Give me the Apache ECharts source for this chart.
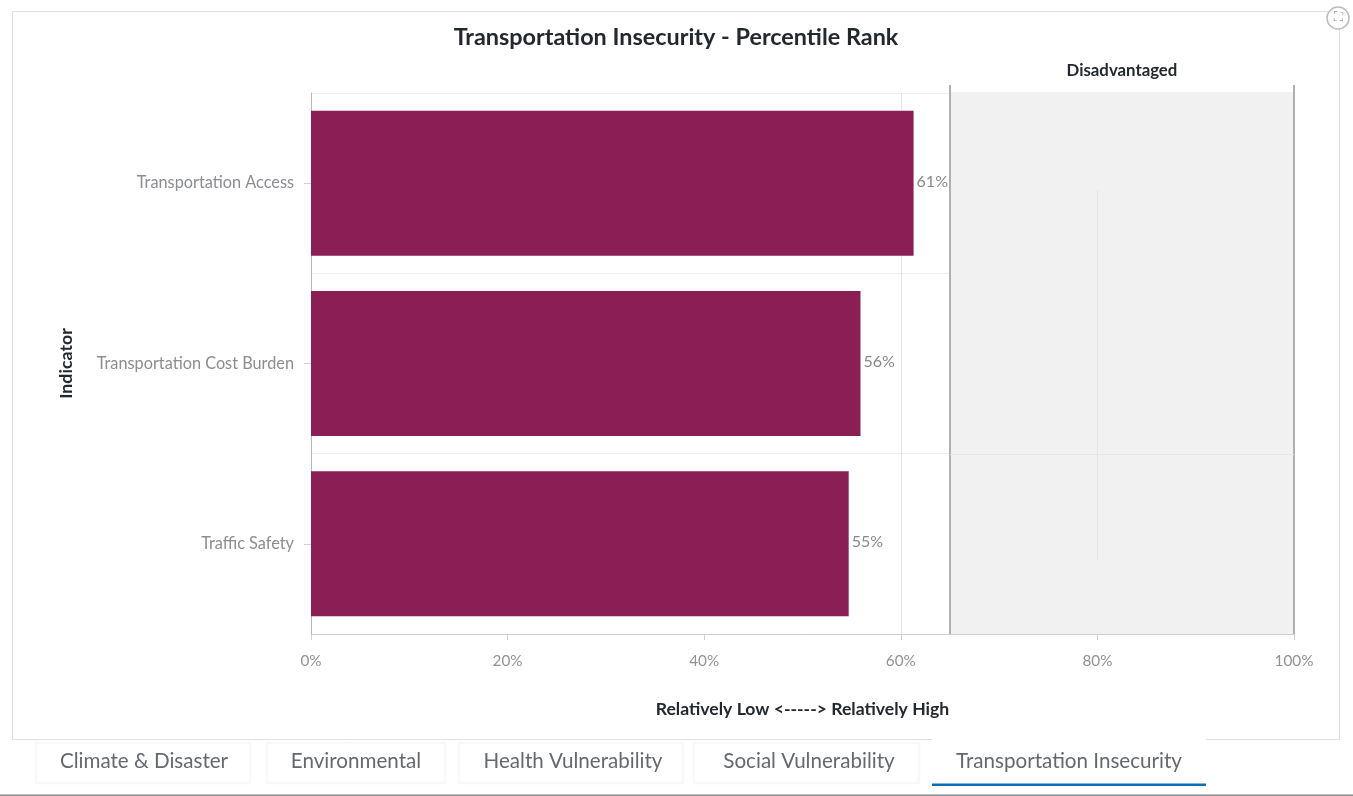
<!DOCTYPE html>
<html><head><meta charset="utf-8">
<style>html,body{margin:0;padding:0;background:#fff}#c{width:1353px;height:796px}</style>
<script src="https://cdn.jsdelivr.net/npm/echarts@6/dist/echarts.min.js"></script>
</head><body><div id="c"></div>
<script>
const categories = ['Transportation Access', 'Transportation Cost Burden', 'Traffic Safety'];
const values = [61.3, 55.9, 54.7];
const valueLabels = ['61%', '56%', '55%'];
const thresholdLow = 65, thresholdHigh = 100;
const tabs = ['Climate & Disaster', 'Environmental', 'Health Vulnerability', 'Social Vulnerability', 'Transportation Insecurity'];
const tabBoxes = [[36, 214], [267, 178], [459, 224], [694, 225], [932, 274]];
const tabCentres = [144, 356, 573, 809, 1069];
const F = 'Lato, "Open Sans", sans-serif';
const chart = echarts.init(document.getElementById('c'), null, {renderer: 'canvas'});
const tabGraphics = [];
tabs.forEach((t, i) => {
  const [x, w] = tabBoxes[i];
  const active = i === 4;
  tabGraphics.push({type: 'rect', silent: true, z: 1, shape: {x, y: active ? 738 : 743, width: w, height: active ? 47 : 40},
    style: {fill: '#fff', stroke: active ? 'transparent' : '#f7f7f7', lineWidth: 1.5, shadowBlur: active ? 0 : 3, shadowColor: 'rgba(0,0,0,0.03)'}});
  tabGraphics.push({type: 'text', silent: true, z: 3, style: {text: t, x: tabCentres[i], y: 761, align: 'center', verticalAlign: 'middle', fill: '#64696d', font: '20.6px ' + F}});
  if (active) tabGraphics.push({type: 'rect', silent: true, z: 3, shape: {x, y: 783.5, width: w, height: 2.5}, style: {fill: '#0f6cb6'}});
});
chart.setOption({
  animation: false,
  backgroundColor: '#fff',
  title: {text: 'Transportation Insecurity - Percentile Rank', left: 671, top: 21, textAlign: 'center',
    textStyle: {fontFamily: F, fontWeight: 'bold', fontSize: 23.4, color: '#23282e'}},
  grid: {left: 311, right: 59, top: 93, bottom: 162},
  xAxis: {type: 'value', min: 0, max: 100, interval: 20,
    name: 'Relatively Low <-----> Relatively High', nameLocation: 'middle', nameGap: 66,
    nameTextStyle: {fontFamily: F, fontWeight: 'bold', fontSize: 17.6, color: '#23282e'},
    axisLine: {show: true, lineStyle: {color: '#cfcfcf', width: 1}},
    axisTick: {show: true, length: 6, lineStyle: {color: '#cfcfcf'}},
    axisLabel: {formatter: '{value}%', margin: 20, fontFamily: F, fontSize: 15.3, color: '#8f9295'},
    splitLine: {show: false}},
  yAxis: {type: 'category', data: categories, inverse: true,
    name: 'Indicator', nameLocation: 'middle', nameGap: 236, nameRotate: 90,
    nameTextStyle: {fontFamily: F, fontWeight: 'bold', fontSize: 17.8, color: '#23282e'},
    axisLine: {show: true, lineStyle: {color: '#b5b5b5', width: 1}},
    axisTick: {show: true, alignWithLabel: true, length: 7, lineStyle: {color: '#cfcfcf'}},
    axisLabel: {margin: 17, padding: [0, 0, 5, 0], fontFamily: F, fontSize: 16.3, color: '#8a8d91'},
    splitLine: {show: true, lineStyle: {color: '#efefef', width: 1}}},
  series: [{
    type: 'bar', data: values, barWidth: '80.4%', z: 5,
    itemStyle: {color: '#8a1f55'},
    label: {show: true, position: 'right', distance: 3, offset: [0, -1.5], fontFamily: F, fontSize: 16, color: '#85888c',
      formatter: p => valueLabels[p.dataIndex]},
    markArea: {silent: true, z: 1,
      itemStyle: {color: '#f1f1f1', opacity: 1},
      label: {show: true, position: 'top', distance: 13, formatter: 'Disadvantaged', fontFamily: F, fontWeight: 'bold', fontSize: 16.8, color: '#23282e'},
      data: [[{xAxis: thresholdLow, y: 92}, {xAxis: thresholdHigh, y: 634}]]},
    markLine: {silent: true, symbol: 'none', z: 2, label: {show: false},
      lineStyle: {color: '#b0b0b0', width: 2, type: 'solid'},
      data: [
        [{xAxis: thresholdLow, y: 85}, {xAxis: thresholdLow, y: 634}],
        [{xAxis: thresholdHigh, y: 85}, {xAxis: thresholdHigh, y: 634}],
        [{xAxis: 60, y: 93, lineStyle: {color: '#e4e4e4', width: 1}}, {xAxis: 60, y: 634}],
        [{xAxis: 80, y: 190, lineStyle: {color: '#e4e4e4', width: 1}}, {xAxis: 80, y: 560}],
        [{xAxis: thresholdLow, y: 454, lineStyle: {color: '#e6e6e6', width: 1}}, {xAxis: thresholdHigh, y: 454}]
      ]}
  }],
  graphic: {elements: [
    {type: 'rect', silent: true, z: 0, shape: {x: 12.5, y: 11.5, width: 1327, height: 728}, style: {fill: 'transparent', stroke: '#e0e0e0', lineWidth: 1}},
    {type: 'rect', silent: true, z: 0, shape: {x: 0, y: 794.5, width: 1353, height: 1.5}, style: {fill: '#8d8d8d'}},
    ...tabGraphics,
    {type: 'circle', silent: true, z: 4, shape: {cx: 1338, cy: 18, r: 11}, style: {fill: '#fff', stroke: '#bdbdbd', lineWidth: 1.5}},
    {type: 'text', silent: true, z: 5, style: {text: '⛶', x: 1338, y: 18, align: 'center', verticalAlign: 'middle', fill: '#999', font: '13px "DejaVu Sans"'}}
  ]}
});
</script></body></html>
